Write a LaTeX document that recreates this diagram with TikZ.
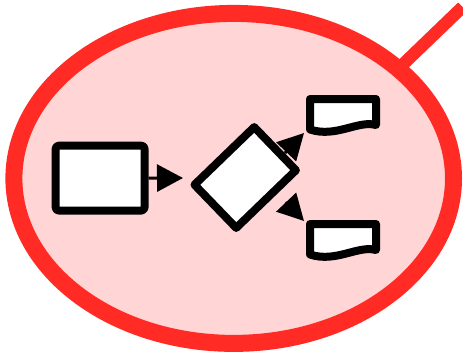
\documentclass[tikz,border=0pt]{standalone}
\usetikzlibrary{arrows.meta}
\definecolor{ringred}{RGB}{255,43,36}
\definecolor{ringfill}{RGB}{255,213,213}
\tikzset{
  box/.style={draw=black, fill=white, line width=8pt, line join=round, inner sep=0pt},
  conn/.style={draw=black, line width=3pt, -{Triangle[length=26pt,width=27pt]}},
  docshape/.pic={
    \draw[draw=black, fill=white, line width=8pt, line join=round]
      (0,0) -- (66,0) -- (66,26) .. controls (48,21) and (26,39) .. (0,30.5) -- cycle;
  }
}
\begin{document}
\begin{tikzpicture}[x=1pt,y=-1pt]
\useasboundingbox (0,0) rectangle (463,354);
% handle line
\coordinate (h1) at (395,72);
\coordinate (h2) at (462.5,7);
\draw[ringred, line width=12.5pt] (h1) -- (h2);
% ellipse
\draw[draw=ringred, fill=ringfill, line width=17pt] (233.7,178.4) ellipse [x radius=219.8, y radius=165];
% nodes
\node[box, rounded corners=3pt, minimum width=88.8pt, minimum height=64.8pt] (rect) at (100.1,178.1) {};
\pic at (310,99) {docshape};
\pic at (310,224) {docshape};
\coordinate (d1) at (304,133);
\coordinate (d2) at (304,221);
% connectors
\coordinate (t1) at (183,178);
\draw[conn] (rect.east) -- (t1);
\node[box, minimum width=83pt, minimum height=60pt, rotate=44] (dia) at (245.2,177.5) {};
\coordinate (s2) at (285,153);
\coordinate (s3) at (286,202);
\draw[conn] (s2) -- (d1);
\draw[conn] (s3) -- (d2);
\end{tikzpicture}
\end{document}
